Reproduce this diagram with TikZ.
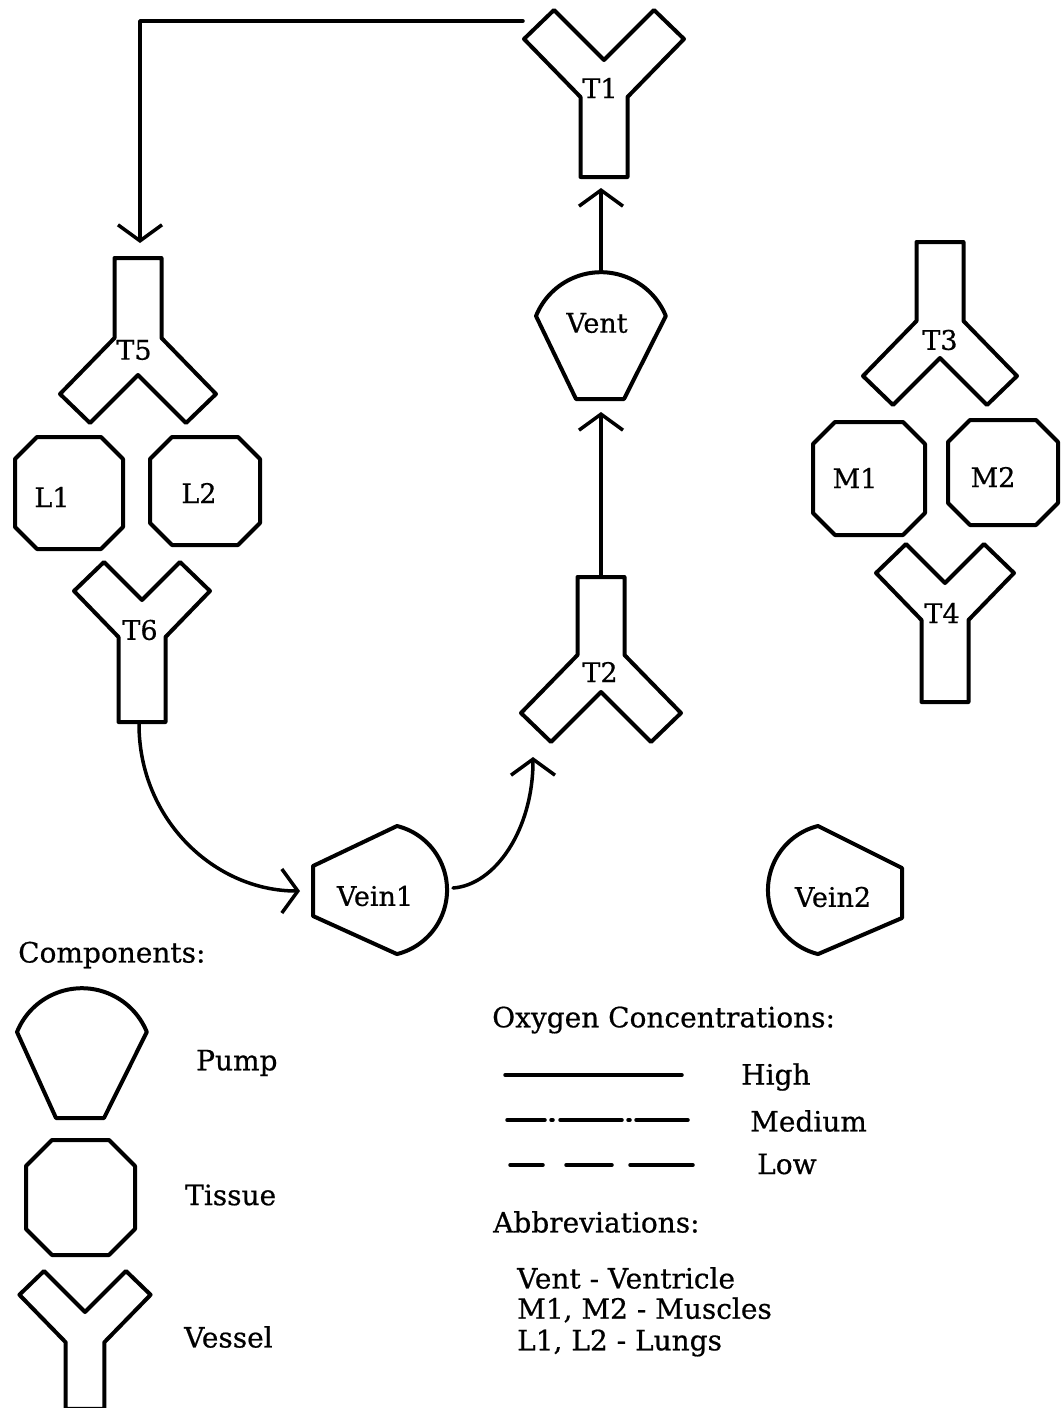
\documentclass[tikz,border=0pt]{standalone}
\usepackage{fontspec}
\setmainfont{DejaVu Serif}[FakeBold=0.6]
\usetikzlibrary{arrows.meta}
\tikzset{
  shp/.style={line width=4pt, line join=round},
  conn/.style={line width=3.5pt, line cap=round, line join=round, -{Straight Barb[length=16pt,width=44pt]}},
  legline/.style={line width=3.5pt, line cap=round},
  lbl/.style={font=\fontsize{27}{30}\selectfont, inner sep=0pt},
  txt/.style={font=\fontsize{28}{32}\selectfont, inner sep=0pt, anchor=west},
}
\newcommand\vessel[6]{% cx, notch y, 1 = arms up / -1 = arms down, scale, arm length, stem end
  \draw[shp, shift={(#1,#2)}, scale=#4, yscale=#3] (0,0) -- (#5,-#5) -- (#5+30,-#5+29) -- (23.5,37) -- (23.5,#6) -- (-23.5,#6) -- (-23.5,37) -- (-#5-30,-#5+29) -- (-#5,-#5) -- cycle;}
\newcommand\tissue[5]{% x1 y1 x2 y2 cut
  \draw[shp] (#1+#5,#2) -- (#3-#5,#2) -- (#3,#2+#5) -- (#3,#4-#5) -- (#3-#5,#4) -- (#1+#5,#4) -- (#1,#4-#5) -- (#1,#2+#5) -- cycle;}
\begin{document}
\begin{tikzpicture}[x=1pt, y=-1pt]
\useasboundingbox (0,0) rectangle (1063,1408);
\clip (0,0) rectangle (1063,1408);
% vessels
\vessel{604}{60}{1}{1}{50}{117}
\vessel{601}{692}{-1}{1}{50}{115}
\vessel{940}{358}{-1}{1}{47}{116}
\vessel{945}{583}{1}{1}{39}{119}
\vessel{138}{375}{-1}{1}{48}{117}
\vessel{142}{600}{1}{1}{38}{122}
\vessel{85}{1312}{1}{0.82}{50}{118}
% tissues
\tissue{15}{437}{123}{549}{22}
\tissue{150}{437}{260}{545}{22}
\tissue{813}{422}{925}{535}{22}
\tissue{948}{420}{1058}{525}{22}
\tissue{26}{1140}{135}{1255}{26}
% pumps
\draw[shp] (536,316) arc[start angle=-158, end angle=-22, radius=70] -- (624,399) -- (576,399) -- cycle;
\draw[shp] (17,1032) arc[start angle=-158, end angle=-22, radius=70] -- (104,1118) -- (56,1118) -- cycle;
\draw[shp] (397,826) arc[start angle=-76, end angle=76, radius=66] -- (313,916) -- (313,866) -- cycle;
\draw[shp] (818,826) arc[start angle=-104, end angle=-256, radius=66] -- (902,918) -- (902,868) -- cycle;
% labels
\node[lbl] (T1) at (600,88) {T1};
\node[lbl] (T2) at (600,672) {T2};
\node[lbl] (T3) at (940,340) {T3};
\node[lbl] (T4) at (942,613) {T4};
\node[lbl] (T5) at (134,350) {T5};
\node[lbl] (T6) at (140,630) {T6};
\node[lbl] (L1) at (52,497) {L1};
\node[lbl] (L2) at (199,493) {L2};
\node[lbl] (M1) at (855,478) {M1};
\node[lbl] (M2) at (993,477) {M2};
\node[lbl] (Vent) at (597,323) {Vent};
\node[lbl] (Vein1) at (375,896) {Vein1};
\node[lbl] (Vein2) at (833,897) {Vein2};
% connector end points
\coordinate (T1arm) at (523,21);
\coordinate (T5in) at (140,243);
\coordinate (T6out) at (139,724);
\coordinate (V1in) at (300,891);
\coordinate (V1out) at (453,888);
\coordinate (T2in) at (533,757);
\coordinate (T2out) at (601,577);
\coordinate (VentIn) at (601,412);
\coordinate (VentOut) at (601,270);
\coordinate (T1in) at (601,188);
% connectors
\draw[conn] (T1arm) -| (T5in);
\draw[conn] (T6out) .. controls (139,820) and (215,891) .. (V1in);
\draw[conn] (V1out) .. controls (495,885) and (533,830) .. (T2in);
\draw[conn] (T2out) -- (VentIn);
\draw[conn] (VentOut) -- (T1in);
% legend
\node[txt] (comp) at (18,955) {Components:};
\node[txt] (pump) at (196,1063) {Pump};
\node[txt] (tiss) at (185,1195) {Tissue};
\node[txt] (vess) at (184,1337) {Vessel};
\node[txt] (oxy) at (492,1020) {Oxygen Concentrations:};
\coordinate (h1) at (505,1075); \coordinate (h2) at (682,1075);
\draw[legline] (h1) -- (h2);
\draw[legline] (507,1120) -- (545,1120);
\draw[legline] (551,1120) -- (553,1120);
\draw[legline] (560,1120) -- (622,1120);
\draw[legline] (628,1120) -- (630,1120);
\draw[legline] (636,1120) -- (688,1120);
\draw[legline] (510,1165) -- (543,1165);
\draw[legline] (566,1165) -- (612,1165);
\draw[legline] (630,1165) -- (693,1165);
\node[txt] (high) at (741,1077) {High};
\node[txt] (med) at (750,1121) {Medium};
\node[txt] (low) at (757,1164) {Low};
\node[txt] (abbr) at (493,1222) {Abbreviations:};
\node[txt] (a1) at (517,1278) {Vent - Ventricle};
\node[txt] (a2) at (517,1310) {M1, M2 - Muscles};
\node[txt] (a3) at (517,1343) {L1, L2 - Lungs};
\end{tikzpicture}
\end{document}
